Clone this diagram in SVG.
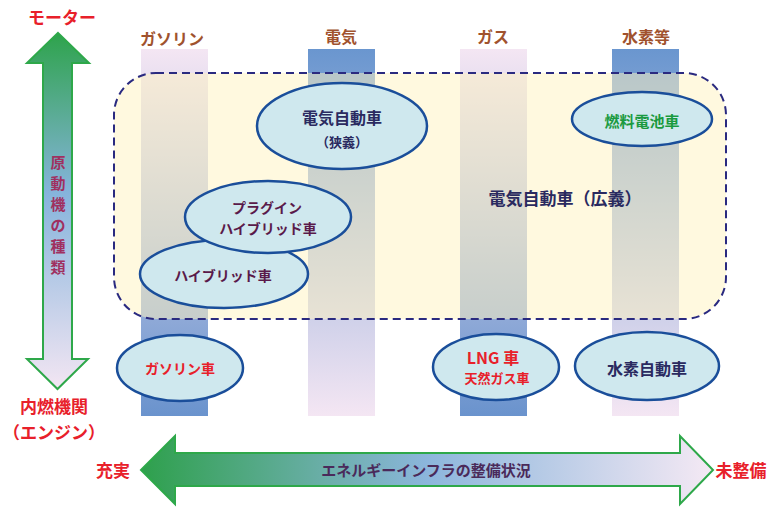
<svg xmlns="http://www.w3.org/2000/svg" width="781" height="511" viewBox="0 0 781 511">
<defs>
<linearGradient id="colA" x1="0" y1="49" x2="0" y2="416" gradientUnits="userSpaceOnUse"><stop offset="0" stop-color="#f4e6f3"/><stop offset="1" stop-color="#6a93cd"/></linearGradient>
<linearGradient id="colB" x1="0" y1="49" x2="0" y2="416" gradientUnits="userSpaceOnUse"><stop offset="0" stop-color="#6a96cf"/><stop offset="1" stop-color="#f4e6f3"/></linearGradient>
<linearGradient id="vArrow" x1="0" y1="33" x2="0" y2="389" gradientUnits="userSpaceOnUse"><stop offset="0" stop-color="#2ea34c"/><stop offset="0.45" stop-color="#86b4dc"/><stop offset="1" stop-color="#f3e6f3"/></linearGradient>
<linearGradient id="hArrow" x1="141" y1="0" x2="713" y2="0" gradientUnits="userSpaceOnUse"><stop offset="0" stop-color="#2ea04c"/><stop offset="0.5" stop-color="#8cb6dc"/><stop offset="1" stop-color="#f5e9f4"/></linearGradient>
</defs>
<style>
text{font-family:"Noto Sans CJK JP","Noto Sans",sans-serif;text-anchor:middle;dominant-baseline:central;font-weight:bold}
.hdr{fill:#a0522d;font-size:16px}
.red{fill:#e8202a}
.node ellipse{fill:#cfe8ee;stroke:#1a4e9a;stroke-width:2.5}
.mar{fill:#5a1a4a;font-size:14px}
.nav{fill:#2a2a60}
</style>
<rect width="781" height="511" fill="#ffffff"/>
<g id="columns">
<rect x="141" y="49" width="67" height="367" fill="url(#colA)"/>
<rect x="308" y="49" width="67" height="367" fill="url(#colB)"/>
<rect x="460" y="49" width="67" height="367" fill="url(#colA)"/>
<rect x="612" y="49" width="67" height="367" fill="url(#colB)"/>
</g>
<g id="ev-broad">
<rect x="114" y="73" width="612" height="246" rx="42" fill="#fff4c0" fill-opacity="0.5" stroke="#2a2a80" stroke-width="2" stroke-dasharray="8,5"/>
<text x="565" y="197" class="nav" font-size="17">電気自動車（広義）</text>
</g>
<g id="headers">
<text x="62" y="16" class="red" font-size="17">モーター</text>
<text x="172" y="38" class="hdr">ガソリン</text>
<text x="341" y="36" class="hdr">電気</text>
<text x="493" y="36" class="hdr">ガス</text>
<text x="646" y="36" class="hdr">水素等</text>
</g>
<g id="connectors">
<path d="M58,33 L89,63 L72,63 L72,359 L88,359 L57.5,389 L27,359 L43,359 L43,63 L27,63 Z" fill="url(#vArrow)" stroke="#2ea84a" stroke-width="2"/>
<path d="M141,470 L175,436 L175,453 L680,453 L680,436 L713,470 L680,504 L680,486 L175,486 L175,504 Z" fill="url(#hArrow)" stroke="#2ea84a" stroke-width="2"/>
</g>
<g id="axis-labels">
<g fill="#a03060" font-size="15">
<text x="58" y="161">原</text>
<text x="58" y="182">動</text>
<text x="58" y="203">機</text>
<text x="58" y="224">の</text>
<text x="58" y="245">種</text>
<text x="58" y="266">類</text>
</g>
<text x="54" y="405" class="red" font-size="17">内燃機関</text>
<text x="54" y="431" class="red" font-size="17">（エンジン）</text>
<text x="113" y="469" class="red" font-size="17">充実</text>
<text x="741" y="469" class="red" font-size="17">未整備</text>
<text x="426" y="469" fill="#4a2a5a" font-size="15">エネルギーインフラの整備状況</text>
</g>
<g id="n-ev" class="node">
<ellipse cx="342" cy="126" rx="85" ry="43"/>
<text x="342" y="117" class="nav" font-size="16">電気自動車</text>
<text x="342" y="141" class="nav" font-size="13">（狭義）</text>
</g>
<g id="n-fcv" class="node">
<ellipse cx="642" cy="119" rx="70" ry="27"/>
<text x="642" y="120" fill="#1a9a40" font-size="15">燃料電池車</text>
</g>
<g id="n-hv" class="node">
<ellipse cx="224" cy="274" rx="84" ry="34"/>
<text x="223" y="275" class="mar">ハイブリッド車</text>
</g>
<g id="n-phv" class="node">
<ellipse cx="268" cy="217" rx="83" ry="36"/>
<text x="267" y="207" class="mar">プラグイン</text>
<text x="268" y="228" class="mar">ハイブリッド車</text>
</g>
<g id="n-gas" class="node">
<ellipse cx="180" cy="368" rx="63" ry="33"/>
<text x="180" y="368" class="red" font-size="14">ガソリン車</text>
</g>
<g id="n-lng" class="node">
<ellipse cx="496" cy="367" rx="63" ry="33"/>
<text x="493" y="357" class="red" font-size="16">LNG 車</text>
<text x="497" y="377" class="red" font-size="13">天然ガス車</text>
</g>
<g id="n-h2" class="node">
<ellipse cx="647" cy="366" rx="72" ry="34"/>
<text x="647" y="368" class="nav" font-size="16">水素自動車</text>
</g>
</svg>
